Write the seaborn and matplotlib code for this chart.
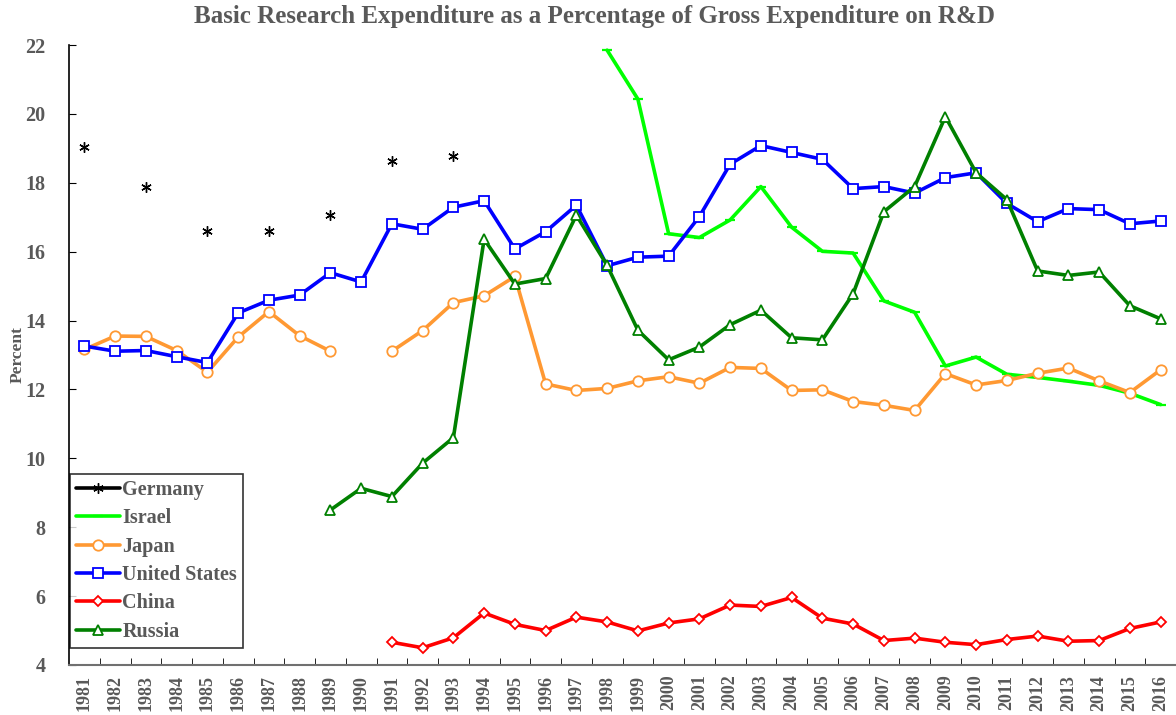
import numpy as np
import pandas as pd
import seaborn as sns
import matplotlib.pyplot as plt
from matplotlib.lines import Line2D

nan = np.nan

# Years on the x axis
years = list(range(1981, 2017))

# Basic research as % of GERD (1981..2016)
germany = [19.05, nan, 17.87, nan, 16.61, nan, 16.61, nan, 17.06, nan, 18.63, nan, 18.78,
           nan, nan, nan, nan, nan, nan, nan, nan, nan, nan, nan, nan, nan, nan, nan, nan,
           nan, nan, nan, nan, nan, nan, nan]
israel = [nan, nan, nan, nan, nan, nan, nan, nan, nan, nan, nan, nan, nan, nan, nan, nan, nan,
          21.85, 20.43, 16.52, 16.41, 16.92, 17.89, 16.71, 16.01, 15.96, 14.57, 14.24,
          12.68, 12.94, 12.44, 12.35, 12.24, 12.12, 11.89, 11.56]
japan = [13.16, 13.55, 13.54, 13.13, 12.50, 13.52, 14.26, 13.56, 13.11, nan,
         13.11, 13.71, 14.52, 14.72, 15.28, 12.16, 11.97, 12.03, 12.25, 12.37,
         12.18, 12.64, 12.61, 11.97, 11.99, 11.65, 11.54, 11.39, 12.46, 12.13,
         12.26, 12.47, 12.62, 12.25, 11.91, 12.57]
usa = [13.26, 13.11, 13.13, 12.95, 12.78, 14.22, 14.59, 14.74, 15.39, 15.12,
       16.81, 16.65, 17.29, 17.48, 16.08, 16.58, 17.35, 15.59, 15.84, 15.87,
       17.02, 18.54, 19.08, 18.88, 18.68, 17.83, 17.89, 17.70, 18.15, 18.29,
       17.40, 16.87, 17.25, 17.22, 16.81, 16.89]
china = [nan, nan, nan, nan, nan, nan, nan, nan, nan, nan,
         4.66, 4.50, 4.79, 5.51, 5.18, 5.00, 5.39, 5.25, 4.99, 5.22,
         5.34, 5.74, 5.70, 5.96, 5.36, 5.19, 4.71, 4.78, 4.66, 4.59,
         4.74, 4.84, 4.69, 4.71, 5.06, 5.25]
russia = [nan, nan, nan, nan, nan, nan, nan, nan,
          8.50, 9.13, 8.89, 9.86, 10.60, 16.36, 15.06, 15.22, 17.06, 15.60,
          13.72, 12.86, 13.23, 13.88, 14.30, 13.50, 13.44, 14.78, 17.16, 17.89,
          19.92, 18.29, 17.51, 15.44, 15.31, 15.41, 14.43, 14.05]

sns.set_style('ticks')
plt.rcParams['font.family'] = ['Liberation Serif', 'DejaVu Serif']
plt.rcParams['font.weight'] = 'bold'
grey = '#595959'

# name, values, color, marker, marker size, edge width
series = [
    ('Germany', germany, 'black', (6, 2, 0), 7.5, 1.0),
    ('Israel', israel, '#00ff00', '_', 7, 1.6),
    ('Japan', japan, '#ff9933', 'o', 7.5, 1.3),
    ('United States', usa, '#0000ff', 's', 7.5, 1.3),
    ('China', china, '#ff0000', 'D', 5, 1.3),
    ('Russia', russia, '#008000', '^', 7.5, 1.3),
]

fig = plt.figure(figsize=(11.76, 7.15), dpi=100)
ax = fig.add_axes([69 / 1176, 1 - 665 / 715, 1 - 69 / 1176, (665 - 45) / 715])

handles = []
for name, vals, color, marker, ms, mew in series:
    v = np.array(vals, dtype=float)
    # split the series where values are missing so gaps stay open
    df = pd.DataFrame({'year': years, 'value': v, 'seg': np.cumsum(np.isnan(v))})
    df = df.dropna()
    face = color if name in ('Germany', 'Israel') else 'white'
    sns.lineplot(data=df, x='year', y='value', units='seg', estimator=None, ax=ax,
                 color=color, linewidth=2.6, marker=marker, markersize=ms,
                 markerfacecolor=face, markeredgecolor=color, markeredgewidth=mew,
                 legend=False)
    handles.append(Line2D([], [], color=color, linewidth=2.6, marker=marker, markersize=ms,
                          markerfacecolor=face, markeredgecolor=color, markeredgewidth=mew,
                          label=name))

ax.set_xlim(1980.5, 2016.5)
ax.set_ylim(4, 22)
ax.set_yticks(range(4, 23, 2))
ax.set_xticks(years)
ax.set_xticks([y + 0.5 for y in years[:-1]], minor=True)
ax.set_xticklabels([str(y) for y in years], rotation=90, fontsize=13,
                   fontweight='bold', color=grey)
ax.set_yticklabels([str(t) for t in range(4, 23, 2)], fontsize=14.5,
                   fontweight='bold', color=grey)
ax.tick_params(axis='x', which='major', length=0, pad=7)
ax.tick_params(axis='x', which='minor', direction='in', length=5, color='black')
ax.tick_params(axis='y', direction='in', length=5, pad=17, color='black')
ax.set_xlabel('')
ax.set_ylabel('')

sns.despine(ax=ax)
ax.spines['left'].set_color('black')
ax.spines['bottom'].set_color('#707070')
ax.spines['left'].set_linewidth(1.2)
ax.spines['bottom'].set_linewidth(1.5)

fig.text(18 / 1176, 1 - 355 / 715, 'Percent', rotation=90, ha='center', va='center',
         fontsize=12.5, fontweight='bold', color=grey)
fig.text(595 / 1176, 1 - 17 / 715, 'Basic Research Expenditure as a Percentage of Gross Expenditure on R&D',
         ha='center', va='center', fontsize=18, fontweight='bold', color=grey)

leg = ax.legend(handles=handles, loc='lower left',
                bbox_to_anchor=(70 / 1176, 1 - 648 / 715), bbox_transform=fig.transFigure,
                borderaxespad=0, fancybox=False, frameon=True, handlelength=2.2,
                handletextpad=0.1, labelspacing=0.42, borderpad=0.3,
                prop={'size': 14.5, 'weight': 'bold'})
leg.get_frame().set_edgecolor('black')
leg.get_frame().set_linewidth(1.2)
for t in leg.get_texts():
    t.set_color(grey)

fig.savefig('out.png', dpi=100)
